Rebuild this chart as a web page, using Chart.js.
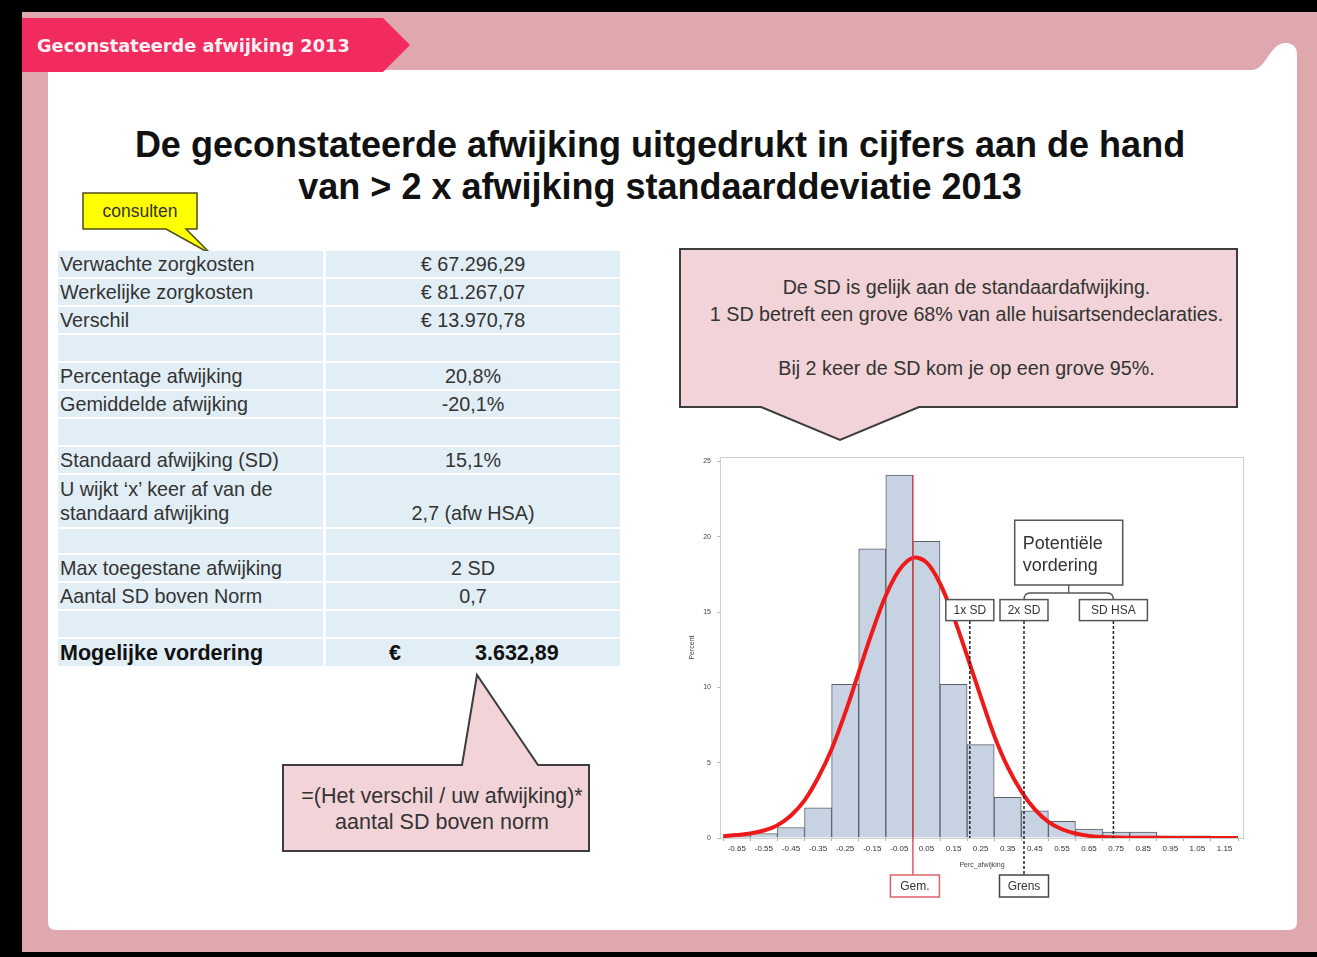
<!DOCTYPE html>
<html><head><meta charset="utf-8">
<script src="https://cdn.jsdelivr.net/npm/chart.js@4.4.0/dist/chart.umd.min.js"></script>
<style>
html,body{margin:0;padding:0;background:#000;width:1317px;height:957px;overflow:hidden;position:relative;}
svg#frame{position:absolute;left:0;top:0;}
.t{position:absolute;font-family:"Liberation Sans",Arial,sans-serif;color:#333;white-space:nowrap;}
#tab{left:37px;top:35px;font-family:"DejaVu Sans",Verdana,sans-serif;font-weight:bold;font-size:17.8px;color:#fff0f4;line-height:22px;}
#title{left:0;width:1320px;top:124px;text-align:center;font-weight:bold;font-size:36px;line-height:42px;color:#111;}
#cons{left:83px;top:193px;width:114px;height:36px;line-height:36px;text-align:center;font-size:17.5px;color:#333;}
.cell{position:absolute;background:#e2eef5;font-family:"Liberation Sans",Arial,sans-serif;font-size:19.8px;color:#333;display:flex;align-items:center;white-space:nowrap;line-height:24px;}
.lab{left:58px;width:263px;padding-left:2px;}
.val{left:326px;width:294px;justify-content:center;text-align:center;}
#c1{left:688px;top:274px;width:557px;text-align:center;font-size:19.7px;line-height:27px;}
#c2{left:283px;top:783px;width:318px;text-align:center;font-size:21.5px;line-height:26px;}
#chartc{position:absolute;left:680px;top:445px;}
</style></head><body>
<svg id="frame" width="1317" height="957">
 <rect width="1317" height="957" fill="#000"/>
 <rect x="22" y="12" width="1295" height="940" fill="#dea8ae"/>
 <path d="M48,70 L1252,70 C1266,70 1270,43 1285,43 Q1297,43 1297,55 L1297,922 Q1297,930 1289,930 L56,930 Q48,930 48,922 Z" fill="#fff"/>
 <polygon points="22,18 383,18 410,45 383,72 22,72" fill="#f22b5e"/>
 <polygon points="83,193 197,193 197,229 186,229 211,254 166,229 83,229" fill="#ffff00" stroke="#4d4d1a" stroke-width="1.5" stroke-linejoin="miter"/>
 <polygon points="680,249 1237,249 1237,407 919,407 840,440 761,407 680,407" fill="#f2d3d7" stroke="#3d3d3d" stroke-width="2"/>
 <polygon points="283,765 462,765 477,675 538,765 589,765 589,851 283,851" fill="#f2d3d7" stroke="#3d3d3d" stroke-width="2"/>
</svg>
<div class="t" id="tab">Geconstateerde afwijking 2013</div>
<div class="t" id="title">De geconstateerde afwijking uitgedrukt in cijfers aan de hand<br>van &gt; 2 x afwijking standaarddeviatie 2013</div>
<div class="t" id="cons">consulten</div>
<div id="table"></div>
<div class="t" id="c1">De SD is gelijk aan de standaardafwijking.<br>1 SD betreft een grove 68% van alle huisartsendeclaraties.<br><br>Bij 2 keer de SD kom je op een grove 95%.</div>
<div class="t" id="c2">=(Het verschil / uw afwijking)*<br>aantal SD boven norm</div>
<canvas id="chartc" width="590" height="465"></canvas>
<script>
// ---- table content ----
const tableLabels = ['Verwachte zorgkosten','Werkelijke zorgkosten','Verschil','','Percentage afwijking','Gemiddelde afwijking','','Standaard afwijking (SD)','U wijkt ‘x’ keer af van de<br>standaard afwijking','','Max toegestane afwijking','Aantal SD boven Norm','','Mogelijke vordering'];
const tableValues = ['€ 67.296,29','€ 81.267,07','€ 13.970,78','','20,8%','-20,1%','','15,1%','<br>2,7 (afw HSA)','','2 SD','0,7','','3.632,89'];

// ---- chart data ----
const binCenters = [-0.65,-0.55,-0.45,-0.35,-0.25,-0.15,-0.05,0.05,0.15,0.25,0.35,0.45,0.55,0.65,0.75,0.85,0.95,1.05,1.15];
const xTickLabels = ['-0.65','-0.55','-0.45','-0.35','-0.25','-0.15','-0.05','0.05','0.15','0.25','0.35','0.45','0.55','0.65','0.75','0.85','0.95','1.05','1.15'];
const binPercent = [0.1,0.3,0.7,2.0,10.2,19.2,24.1,19.7,10.2,6.2,2.7,1.8,1.1,0.6,0.4,0.4,0.15,0.15,0];
const curveX = [-0.70,-0.65,-0.60,-0.55,-0.50,-0.45,-0.40,-0.35,-0.30,-0.25,-0.20,-0.15,-0.10,-0.05,0.00,0.05,0.10,0.15,0.20,0.25,0.30,0.35,0.40,0.45,0.50,0.55,0.60,0.65,0.70,0.80,0.90,1.00,1.10,1.20];
const curveY = [0.12,0.2,0.3,0.5,0.85,1.5,2.5,4.0,5.9,8.3,11.0,13.7,16.1,17.8,18.6,18.3,16.9,14.7,12.1,9.4,6.8,4.7,3.1,1.9,1.07,0.58,0.3,0.14,0.06,0.02,0.01,0,0,0];
const yTickValues = [0,5,10,15,20,25];
const refLabels = ['1x SD','2x SD','SD HSA'];
const refValues = [0.21,0.41,0.74];
const meanValue = 0.0;
const meanLabel = 'Gem.';
const limitLabel = 'Grens';
const claimLabel = ['Potentiële','vordering'];

// build table
(function(){
  const tops = [251,279,307,335,363,391,419,447,475,529,555,583,611,639];
  const hs   = [26,26,26,26,26,26,26,26,52,24,26,26,26,27];
  const T = document.getElementById('table');
  let html='';
  tableLabels.forEach((l,i)=>{
    const last = i===tableLabels.length-1;
    html += `<div class="cell lab" style="top:${tops[i]}px;height:${hs[i]}px;${last?'font-weight:bold;font-size:21.5px;color:#111;':''}">${l}</div>`;
    if(last){
      html += `<div class="cell val" style="top:${tops[i]}px;height:${hs[i]}px;font-weight:bold;font-size:21.5px;color:#111;justify-content:flex-start;"><span style="position:absolute;left:63px">€</span><span style="position:absolute;left:149px">${tableValues[i]}</span></div>`;
    } else {
      html += `<div class="cell val" style="top:${tops[i]}px;height:${hs[i]}px;">${tableValues[i]}</div>`;
    }
  });
  T.innerHTML = html;
})();

const FF = '"Liberation Sans", Arial, sans-serif';
Chart.defaults.font.family = FF;

function box(ctx, cx, cy, w, h, text, stroke, size){
  ctx.fillStyle='#fff';
  ctx.fillRect(cx-w/2, cy-h/2, w, h);
  ctx.strokeStyle=stroke; ctx.lineWidth=1.5; ctx.setLineDash([]);
  ctx.strokeRect(cx-w/2, cy-h/2, w, h);
  ctx.fillStyle='#333'; ctx.font = size+'px '+FF;
  ctx.textAlign='center'; ctx.textBaseline='middle';
  ctx.fillText(text, cx, cy+1);
}

const annot = {
  id:'annot',
  beforeDatasetsDraw(chart){
    const {ctx, chartArea:a} = chart;
    ctx.save();
    ctx.strokeStyle='#cfcfcf'; ctx.lineWidth=1;
    ctx.strokeRect(a.left+0.5, a.top+0.5, a.width-1, a.height);
    ctx.restore();
  },
  afterDatasetsDraw(chart){
    const {ctx, scales:{x,y}} = chart;
    ctx.save();
    const boxCY = y.getPixelForValue(15.1), boxH = 21;
    const axisY = y.getPixelForValue(0);
    const lowCY = axisY + 48, lowH = 22;
    // mean line
    const mx = x.getPixelForValue(meanValue);
    ctx.strokeStyle='#e23a48'; ctx.lineWidth=1.3; ctx.setLineDash([]);
    ctx.beginPath(); ctx.moveTo(mx, y.getPixelForValue(Math.max(...binPercent))); ctx.lineTo(mx, lowCY-lowH/2); ctx.stroke();
    // reference dashed lines
    const pxs = refValues.map(v=>x.getPixelForValue(v));
    ctx.strokeStyle='#222'; ctx.lineWidth=1.5; ctx.setLineDash([3,2]);
    pxs.forEach((px,i)=>{
      ctx.beginPath(); ctx.moveTo(px, boxCY+boxH/2);
      ctx.lineTo(px, i===1 ? lowCY-lowH/2 : axisY); ctx.stroke();
    });
    ctx.setLineDash([]);
    // ref boxes
    const widths=[48,48,68];
    pxs.forEach((px,i)=>box(ctx, px, boxCY-0.5, widths[i], boxH, refLabels[i], '#555', 12));
    // claim box + bracket
    const cx = (pxs[1]+pxs[2])/2;
    const top = y.getPixelForValue(21.1), bot = y.getPixelForValue(16.8);
    ctx.fillStyle='#fff'; ctx.fillRect(cx-54, top, 108, bot-top);
    ctx.strokeStyle='#555'; ctx.lineWidth=1.5; ctx.strokeRect(cx-54, top, 108, bot-top);
    ctx.fillStyle='#333'; ctx.font='18px '+FF; ctx.textAlign='left'; ctx.textBaseline='middle';
    ctx.fillText(claimLabel[0], cx-46, top+(bot-top)*0.36);
    ctx.fillText(claimLabel[1], cx-46, top+(bot-top)*0.71);
    const by = bot+8, bTop = boxCY-boxH/2;
    ctx.lineWidth=1.3;
    ctx.beginPath();
    ctx.moveTo(cx, bot); ctx.lineTo(cx, by);
    ctx.moveTo(pxs[1], bTop); ctx.quadraticCurveTo(pxs[1], by, pxs[1]+6, by); ctx.lineTo(pxs[2]-6, by); ctx.quadraticCurveTo(pxs[2], by, pxs[2], bTop);
    ctx.stroke();
    // lower boxes
    box(ctx, mx+2, lowCY, 49, lowH, meanLabel, '#e0606a', 12);
    box(ctx, pxs[1], lowCY, 49, lowH, limitLabel, '#444', 12);
    ctx.restore();
  }
};

new Chart(document.getElementById('chartc'), {
  type:'bar',
  data:{
    datasets:[
      {type:'line', label:'Normaal', data: curveX.map((v,i)=>({x:v, y:curveY[i]})), borderColor:'#ee1a1a', borderWidth:4, pointRadius:0, tension:0.35, order:0, fill:false},
      {type:'bar', label:'Percent', data: binCenters.map((v,i)=>({x:v, y:binPercent[i]})), backgroundColor:'#c7d3e3', borderColor:'#5c6168', borderWidth:1, barPercentage:1, categoryPercentage:1, order:1}
    ]
  },
  options:{
    responsive:false, animation:false,
    layout:{padding:{top:12,right:26,bottom:39,left:0}},
    plugins:{legend:{display:false}, tooltip:{enabled:false}},
    scales:{
      x:{type:'linear', min:-0.712, max:1.222, offset:false,
        afterBuildTicks: ax => { ax.ticks = binCenters.map(v=>({value:v})); },
        afterFit: s => { s.height = 33; },
        ticks:{autoSkip:false, maxRotation:0, padding:3, font:{size:8}, color:'#333', callback:(v,i)=>xTickLabels[i]},
        grid:{display:true, drawOnChartArea:false, tickLength:3, color:'#aaa'},
        border:{color:'#cfcfcf'},
        title:{display:true, text:'Perc_afwijking', font:{size:7}, color:'#444', padding:{top:0,bottom:2}}
      },
      y:{min:0, max:25.3,
        afterBuildTicks: ax => { ax.ticks = yTickValues.map(v=>({value:v})); },
        afterFit: s => { s.width = 40; },
        ticks:{padding:6, font:{size:7}, color:'#444'},
        grid:{display:true, drawOnChartArea:false, tickLength:3, color:'#bbb'},
        border:{color:'#cfcfcf'},
        title:{display:true, text:'Percent', font:{size:7}, color:'#444', padding:{top:8,bottom:0}}
      }
    }
  },
  plugins:[annot]
});
</script>
</body></html>
